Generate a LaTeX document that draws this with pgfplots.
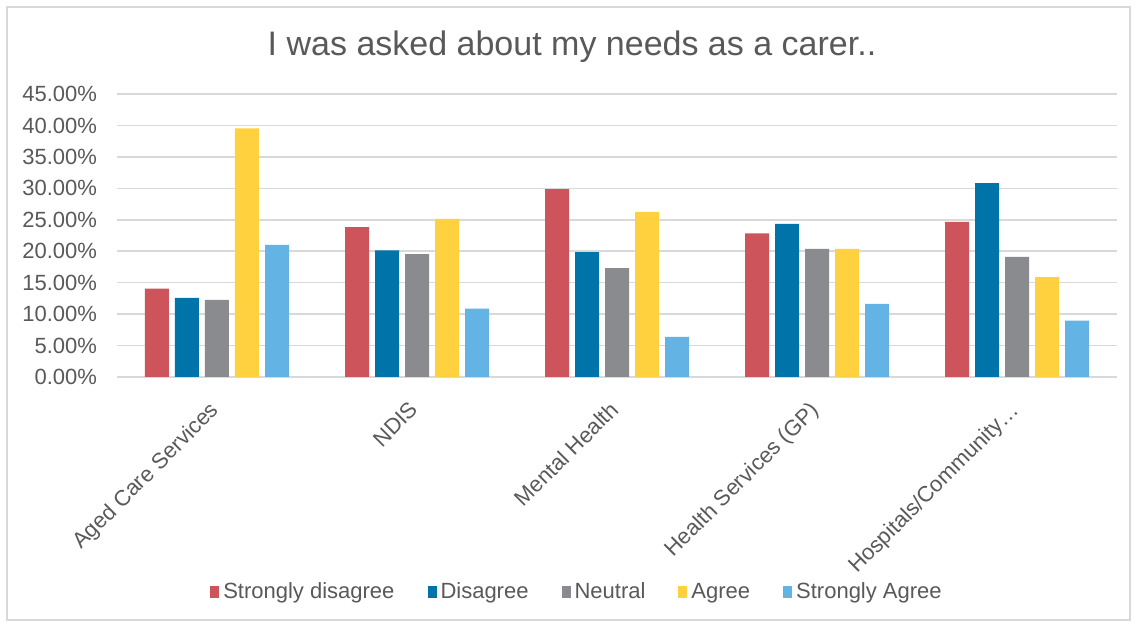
\documentclass[border=0pt]{standalone}
\usepackage{pgfplots}
\pgfplotsset{compat=1.18}
\usepackage{fontspec}
\setmainfont{Liberation Sans}
\definecolor{cSD}{HTML}{CD545B}
\definecolor{cD}{HTML}{0073A8}
\definecolor{cN}{HTML}{898B8E}
\definecolor{cA}{HTML}{FFD13F}
\definecolor{cSA}{HTML}{63B4E4}
\definecolor{txt}{HTML}{595959}
\definecolor{grid}{HTML}{D9D9D9}
\begin{document}
\begin{tikzpicture}
\useasboundingbox (0,0) rectangle (568pt,312.5pt);
\draw[color=grid, line width=0.8pt] (3.5pt,2.5pt) rectangle (565pt,309pt);
\node[text=txt, font=\fontsize{17}{20}\selectfont] at (286pt,289pt) {I was asked about my needs as a carer..};
\begin{axis}[
  at={(58.5pt,124pt)}, anchor=south west,
  scale only axis, width=500pt, height=141.5pt,
  xmin=-0.5, xmax=4.5, ymin=0, ymax=45,
  ybar=3pt, bar width=12pt,
  axis x line*=bottom, axis y line*=left,
  x axis line style={color=grid, line width=0.8pt, -},
  y axis line style={draw=none},
  ytick={0,5,...,45},
  yticklabels={0.00\%,5.00\%,10.00\%,15.00\%,20.00\%,25.00\%,30.00\%,35.00\%,40.00\%,45.00\%},
  yticklabel style={xshift=-6.5pt},
  ymajorgrids, grid style={color=grid, line width=0.8pt},
  major tick length=0pt,
  xtick={0,1,2,3,4},
  xticklabels={Aged Care Services, NDIS, Mental Health, Health Services (GP), Hospitals/Community…},
  xticklabel style={rotate=45, anchor=north east, inner sep=1pt, xshift=-10pt, yshift=-4pt},
  ticklabel style={text=txt, font=\fontsize{11}{13}\selectfont},
  tick label style={text=txt},
  legend style={at={(0.461,-0.76)}, anchor=center, legend columns=-1, draw=none,
    font=\fontsize{11}{13}\selectfont, text=txt,
    /tikz/every even column/.append style={column sep=14.5pt}},
  legend image code/.code={\fill[#1] (0.5pt,-2.8pt) rectangle (5pt,2.8pt);},
]
\addplot[fill=cSD, draw=none] coordinates {(0,14.07) (1,23.83) (2,29.88) (3,22.82) (4,24.68)};
\addplot[fill=cD, draw=none] coordinates {(0,12.58) (1,20.12) (2,19.85) (3,24.36) (4,30.84)};
\addplot[fill=cN, draw=none] coordinates {(0,12.26) (1,19.53) (2,17.30) (3,20.38) (4,19.11)};
\addplot[fill=cA, draw=none] coordinates {(0,39.54) (1,25.16) (2,26.27) (3,20.38) (4,15.87)};
\addplot[fill=cSA, draw=none] coordinates {(0,21.02) (1,10.88) (2,6.37) (3,11.62) (4,8.97)};
\legend{Strongly disagree, Disagree, Neutral, Agree, Strongly Agree}
\end{axis}
\end{tikzpicture}
\end{document}
